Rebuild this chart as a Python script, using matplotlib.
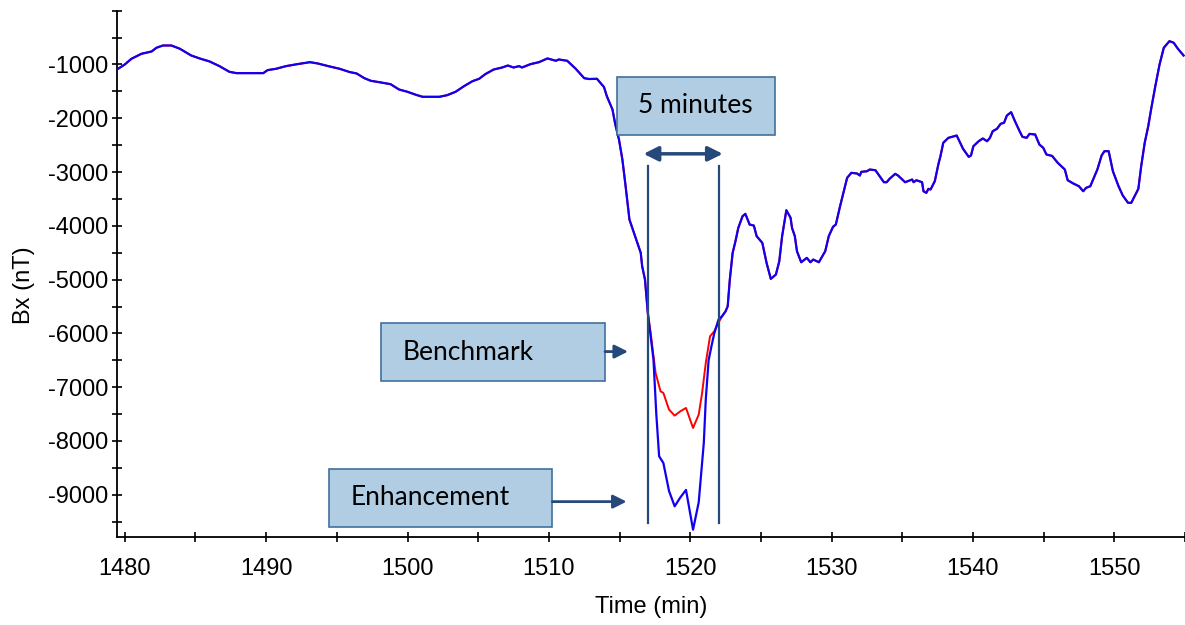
import numpy as np
import matplotlib.pyplot as plt
from matplotlib.patches import Rectangle

# Bx trace before the 5-minute window (shared by both runs)
time_pre = [1479.45, 1480.0, 1480.47, 1481.18, 1481.9, 1482.24, 1482.7, 1483.3, 1483.9,
            1484.7, 1485.3, 1486.0, 1486.7, 1487.4, 1487.9, 1489.8, 1490.1, 1490.7,
            1491.4, 1492.2, 1493.1, 1493.65, 1494.4, 1495.2, 1495.9, 1496.4, 1496.95,
            1497.4, 1498.0, 1498.8, 1499.4, 1500.0, 1500.6, 1501.07, 1502.25, 1502.8,
            1503.4, 1504.0, 1504.6, 1505.07, 1505.5, 1506.1, 1506.7, 1507.1, 1507.5,
            1507.9, 1508.1, 1508.7, 1509.3, 1509.9, 1510.5, 1510.7, 1511.3, 1511.9,
            1512.5, 1512.84, 1513.4, 1513.9, 1514.1, 1514.5, 1514.7, 1514.96, 1515.2,
            1515.4, 1515.7, 1516.1, 1516.5, 1516.6, 1516.8]
bx_pre = [-1093, -1000, -894, -801, -758, -689, -647, -647, -708,
          -833, -888, -944, -1031, -1136, -1161, -1161, -1105, -1080,
          -1031, -994, -957, -981, -1031, -1080, -1140, -1167, -1255,
          -1303, -1329, -1366, -1465, -1508, -1564, -1601, -1601, -1571,
          -1508, -1403, -1310, -1266, -1180, -1093, -1056, -1019, -1056,
          -1031, -1056, -994, -957, -888, -931, -907, -931, -1080,
          -1255, -1270, -1266, -1420, -1589, -1837, -2116, -2395, -2767,
          -3200, -3883, -4193, -4503, -4752, -5000]

# inside the window the two runs differ
time_enh_win = [1517.0, 1517.4, 1517.6, 1517.8, 1518.1, 1518.5, 1518.9, 1519.3, 1519.7,
                1520.2, 1520.6, 1520.96, 1521.1, 1521.3, 1521.5, 1521.7, 1522.0]
bx_enh_win = [-5620, -6487, -7500, -8285, -8409, -8930, -9215, -9050, -8910,
              -9649, -9140, -8037, -7231, -6500, -6240, -6000, -5743]
time_bench_win = [1517.0, 1517.2, 1517.55, 1517.9, 1518.1, 1518.5, 1518.9, 1519.3, 1519.7,
                  1520.2, 1520.6, 1520.84, 1521.1, 1521.4, 1521.7, 1522.0]
bx_bench_win = [-5620, -5992, -6735, -7077, -7107, -7417, -7529, -7448, -7386,
                -7758, -7510, -7107, -6549, -6054, -5961, -5800]

# after the window (shared again)
time_post = [1522.25, 1522.5, 1522.65, 1522.8, 1523.0, 1523.2, 1523.4, 1523.7, 1523.9,
             1524.2, 1524.5, 1524.7, 1525.1, 1525.4, 1525.7, 1526.06, 1526.3, 1526.5,
             1526.8, 1527.1, 1527.2, 1527.4, 1527.55, 1527.85, 1528.25, 1528.5, 1528.7,
             1529.1, 1529.55, 1529.8, 1530.1, 1530.3, 1530.6, 1531.1, 1531.4, 1531.8,
             1532.0, 1532.1, 1532.5, 1532.7, 1533.1, 1533.4, 1533.7, 1533.9, 1534.1,
             1534.5, 1534.7, 1535.2, 1535.7, 1535.8, 1536.0, 1536.4, 1536.5, 1536.7,
             1536.85, 1537.0, 1537.3, 1537.55, 1537.7, 1537.9, 1538.26, 1538.85, 1539.3,
             1539.7, 1539.86, 1540.03, 1540.4, 1540.7, 1541.0, 1541.2, 1541.4, 1541.7,
             1541.96, 1542.2, 1542.4, 1542.7, 1542.97, 1543.3, 1543.5, 1543.8, 1544.0,
             1544.4, 1544.7, 1544.97, 1545.2, 1545.6, 1546.0, 1546.5, 1546.7, 1547.1,
             1547.5, 1547.8, 1548.0, 1548.3, 1548.6, 1548.8, 1549.1, 1549.3, 1549.6,
             1549.9, 1550.3, 1550.6, 1550.97, 1551.2, 1551.7, 1551.9, 1552.15, 1552.4,
             1552.6, 1552.9, 1553.2, 1553.5, 1553.9, 1554.2, 1554.5, 1554.9]
bx_post = [-5682, -5589, -5496, -5000, -4503, -4286, -4038, -3822, -3777,
           -3976, -3995, -4193, -4317, -4689, -4986, -4906, -4659, -4193,
           -3710, -3851, -4038, -4193, -4472, -4677, -4596, -4677, -4627,
           -4677, -4472, -4193, -4019, -3976, -3635, -3107, -3014, -3027,
           -3065, -2996, -2985, -2953, -2966, -3078, -3189, -3189, -3126,
           -3033, -3065, -3189, -3139, -3189, -3152, -3189, -3357, -3387,
           -3312, -3325, -3171, -2860, -2706, -2456, -2364, -2321, -2568,
           -2717, -2693, -2520, -2427, -2376, -2427, -2364, -2240, -2196,
           -2103, -2084, -1949, -1887, -2054, -2240, -2345, -2364, -2290,
           -2302, -2488, -2549, -2674, -2700, -2829, -2953, -3152, -3213,
           -3264, -3357, -3294, -3264, -3078, -2953, -2693, -2612, -2612,
           -2985, -3264, -3437, -3572, -3572, -3312, -2892, -2456, -2148,
           -1837, -1403, -1000, -689, -566, -596, -708, -833]

window = [1517, 1522]

t_enh = np.array(time_pre + time_enh_win + time_post)
b_enh = np.array(bx_pre + bx_enh_win + bx_post)
t_bench = np.array(time_pre + time_bench_win + time_post)
b_bench = np.array(bx_pre + bx_bench_win + bx_post)

plt.rcParams['font.family'] = ['Liberation Sans', 'DejaVu Sans']
plt.rcParams['axes.unicode_minus'] = False

fig = plt.figure(figsize=(11.85, 6.25), dpi=100)
ax = fig.add_axes([117 / 1185, 1 - 536.7 / 625, 1 - 117 / 1185, (536.7 - 10.7) / 625])

ax.plot(t_bench, b_bench, color='red', lw=1.4, zorder=2)
ax.plot(t_enh, b_enh, color='#1200f0', lw=1.6, zorder=3)

ax.set_xlim(1479.45, 1554.9)
ax.set_ylim(-9780, 0)

ax.set_xticks(np.arange(1480, 1551, 10))
ax.set_xticks(np.arange(1485, 1556, 10), minor=True)
ax.set_yticks(np.arange(-9000, -999, 1000))
ax.set_yticks(np.arange(-9500, 1, 500), minor=True)
ax.tick_params(which='both', direction='inout', length=7, width=1.2, color='black',
               labelsize=17)
ax.tick_params(axis='x', pad=12)
ax.tick_params(axis='y', pad=3)

for s in ['top', 'right']:
    ax.spines[s].set_visible(False)
for s in ['left', 'bottom']:
    ax.spines[s].set_linewidth(1.3)

ax.set_xlabel('Time (min)', fontsize=17)
ax.set_ylabel('Bx (nT)', fontsize=17)
ax.xaxis.set_label_coords(0.5, -0.113)
ax.yaxis.set_label_coords(-0.077, 0.478)

dark = '#24497a'
box_face = '#b0cde3'
box_edge = '#41719c'
box_font = ['Lato', 'DejaVu Sans']

# window markers
for w in window:
    ax.plot([w, w], [-2892, -9527], color=dark, lw=1.6, zorder=4)

ax.annotate('', xy=(1516.7, -2661), xytext=(1522.3, -2661),
            arrowprops=dict(arrowstyle='<|-|>', color=dark, lw=2.5, mutation_scale=22,
                            shrinkA=0, shrinkB=0))

boxes = [
    ('5 minutes', 1514.82, 1525.97, -2308, -1229, 'center'),
    ('Benchmark', 1498.13, 1513.97, -6891, -5804, 'left'),
    ('Enhancement', 1494.48, 1510.25, -9599, -8520, 'left'),
]
for label, x0, x1, y0, y1, ha in boxes:
    ax.add_patch(Rectangle((x0, y0), x1 - x0, y1 - y0, facecolor=box_face,
                           edgecolor=box_edge, lw=1.2, zorder=5))
    tx = (x0 + x1) / 2 if ha == 'center' else x0 + 1.5
    ax.text(tx, (y0 + y1) / 2, label, ha=ha, va='center', fontsize=19,
            family=box_font, color='black', zorder=6)

ax.annotate('', xy=(1515.6, -6338), xytext=(1513.97, -6338),
            arrowprops=dict(arrowstyle='-|>', color=dark, lw=2, mutation_scale=20,
                            shrinkA=0, shrinkB=0), zorder=6)
ax.annotate('', xy=(1515.5, -9128), xytext=(1510.25, -9128),
            arrowprops=dict(arrowstyle='-|>', color=dark, lw=2, mutation_scale=20,
                            shrinkA=0, shrinkB=0), zorder=6)

fig.savefig('out.png', dpi=100)
